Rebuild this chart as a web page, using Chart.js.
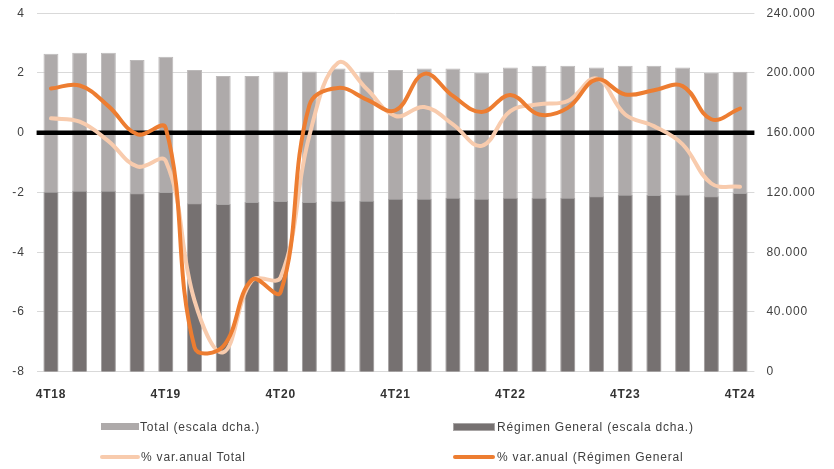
<!DOCTYPE html>
<html>
<head>
<meta charset="utf-8">
<script src="https://cdn.jsdelivr.net/npm/chart.js@4.4.1/dist/chart.umd.min.js"></script>
<style>
  html, body { margin: 0; padding: 0; background: #fff; overflow: hidden; }
  #wrap { position: relative; width: 834px; height: 469px; overflow: hidden; }
  #wrap canvas { position: absolute; left: 0; top: -6px; }
  .leg { position: absolute; font: 12px "Liberation Sans", Arial, sans-serif; color: #404040; letter-spacing: 0.8px; white-space: nowrap; line-height: 14px; }
  .sw { position: absolute; }
</style>
</head>
<body>
<div id="wrap">
  <canvas id="c" width="834" height="475"></canvas>
  <div class="sw" style="left:101px;top:423px;width:38px;height:7px;background:#aeaaaa"></div>
  <div class="leg" style="left:140px;top:420px">Total (escala dcha.)</div>
  <div class="sw" style="left:453px;top:423px;width:40px;height:6px;background:#767171;border:1px solid #a8a5a5"></div>
  <div class="leg" style="left:497px;top:420px">Régimen General (escala dcha.)</div>
  <div class="sw" style="left:100px;top:455px;width:40px;height:4px;border-radius:2px;background:#f8cbad"></div>
  <div class="leg" style="left:141px;top:450px">% var.anual Total</div>
  <div class="sw" style="left:453px;top:455px;width:42px;height:4px;border-radius:2px;background:#ed7d31"></div>
  <div class="leg" style="left:497px;top:450px">% var.anual (Régimen General</div>
</div>
<script>
// trimestres 4T18 .. 4T24
const quarters = ['4T18','1T19','2T19','3T19','4T19','1T20','2T20','3T20','4T20','1T21','2T21','3T21','4T21',
  '1T22','2T22','3T22','4T22','1T23','2T23','3T23','4T23','1T24','2T24','3T24','4T24'];
const shownLabels = ['4T18','4T19','4T20','4T21','4T22','4T23','4T24'];

// escala dcha.
const total = [212800,213600,213600,208600,210800,202000,198000,198000,201000,201000,203000,201000,202000,
  203000,203000,200000,203700,204800,204800,203700,204800,204800,203700,200000,200800];
const regimenGeneral = [120500,121200,121200,119500,120300,112800,112300,113600,114300,113600,114500,114500,115700,
  115700,116500,115700,116500,116500,116500,117400,118500,118300,118600,117400,119700];

// % var. anual (escala izda.)
const varTotal = [0.48,0.37,-0.28,-1.13,-0.95,-5.62,-7.35,-4.95,-4.84,-0.1,2.34,1.46,0.56,
  0.86,0.28,-0.44,0.72,0.95,1.06,1.82,0.61,0.22,-0.39,-1.70,-1.81];
const varGeneral = [1.48,1.58,0.89,-0.05,0.15,-7.18,-7.15,-4.92,-5.34,0.92,1.5,1.11,0.75,
  1.97,1.23,0.69,1.26,0.61,0.83,1.78,1.28,1.42,1.56,0.45,0.81];

const leftTicks = [-8,-6,-4,-2,0,2,4];

const FONT = '"Liberation Sans", Arial, sans-serif';

// black line at 0, drawn over the bars but under the lines
const zeroLine = {
  id: 'zeroLine',
  afterDatasetDraw(chart, args) {
    if (args.index !== 2) return;
    const { ctx, chartArea } = chart;
    const y = chart.scales.y.getPixelForValue(0);
    ctx.save();
    ctx.strokeStyle = '#000';
    ctx.lineWidth = 4.5;
    ctx.beginPath();
    ctx.moveTo(chartArea.left, y);
    ctx.lineTo(chartArea.right, y);
    ctx.stroke();
    ctx.restore();
  }
};

const spacing = {
  id: 'spacing',
  beforeInit(chart) { chart.ctx.letterSpacing = '0.8px'; },
  beforeDraw(chart) { chart.ctx.letterSpacing = '0.8px'; }
};

const fmt = v => String(v).replace(/\B(?=(\d{3})+(?!\d))/g, '.');

new Chart(document.getElementById('c'), {
  type: 'bar',
  data: {
    labels: quarters,
    datasets: [
      { type: 'line', label: '% var.anual (Régimen General', data: varGeneral, yAxisID: 'y',
        borderColor: '#ed7d31', borderWidth: 4, pointRadius: 0, tension: 0.4, order: 0, borderCapStyle: 'round' },
      { type: 'line', label: '% var.anual Total', data: varTotal, yAxisID: 'y',
        borderColor: '#f8cbad', borderWidth: 4, pointRadius: 0, tension: 0.4, order: 1, borderCapStyle: 'round' },
      { label: 'Régimen General (escala dcha.)', data: regimenGeneral, yAxisID: 'y1',
        backgroundColor: '#767171', borderColor: '#a8a5a5', borderWidth: 1, order: 2 },
      { label: 'Total (escala dcha.)', data: total, yAxisID: 'y1',
        backgroundColor: '#aeaaaa', borderColor: '#bcb9b9', borderWidth: 1, order: 3 }
    ]
  },
  options: {
    responsive: false,
    animation: false,
    layout: { padding: { top: 6, left: 0, right: 0, bottom: 0 } },
    datasets: { bar: { grouped: false, barPercentage: 0.52, categoryPercentage: 1 } },
    plugins: { legend: { display: false }, tooltip: { enabled: false } },
    scales: {
      x: {
        grid: { display: false }, border: { display: false },
        ticks: {
          autoSkip: false, maxRotation: 0, padding: 8, color: '#333',
          font: { family: FONT, size: 12, weight: 'bold' },
          callback: (v, i) => shownLabels.includes(quarters[i]) ? quarters[i] : ''
        },
        afterFit: s => { s.height = 97.3; }
      },
      y: {
        position: 'left', min: leftTicks[0], max: leftTicks[leftTicks.length - 1],
        afterBuildTicks: s => { s.ticks = leftTicks.map(v => ({ value: v })); },
        grid: { color: '#d9d9d9', lineWidth: 1, drawTicks: false }, border: { display: false },
        ticks: { padding: 12, color: '#404040', font: { family: FONT, size: 12 } },
        afterFit: s => { s.width = 36.6; }
      },
      y1: {
        position: 'right', min: 0, max: 240000,
        grid: { display: false, drawTicks: false }, border: { display: false },
        ticks: { stepSize: 40000, padding: 12, color: '#404040', font: { family: FONT, size: 12 }, callback: v => fmt(v) },
        afterFit: s => { s.width = 79.6; }
      }
    }
  },
  plugins: [zeroLine, spacing]
});
</script>
</body>
</html>
